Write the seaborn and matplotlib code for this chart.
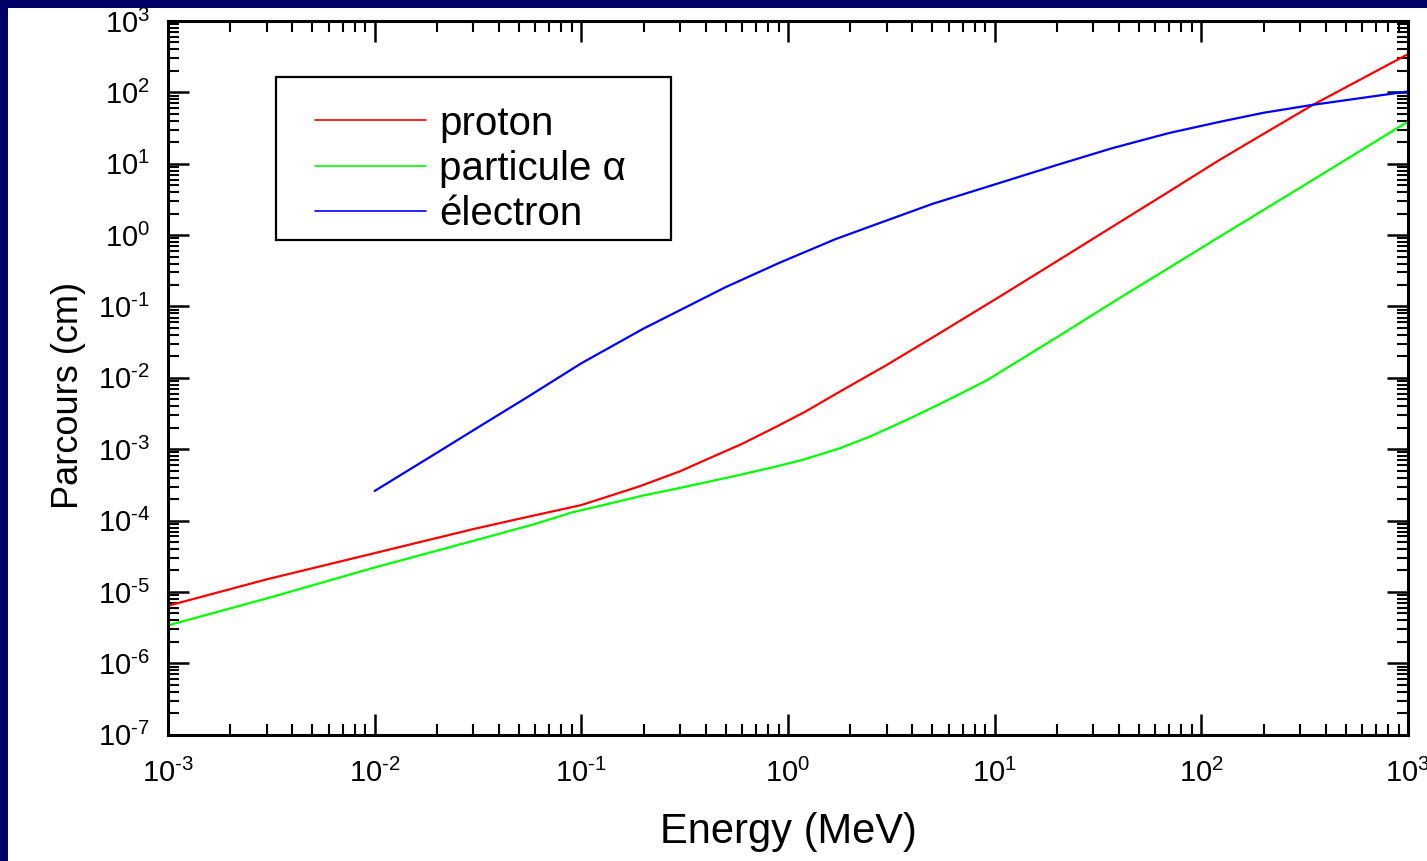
import numpy as np
import pandas as pd
import matplotlib
matplotlib.use('Agg')
import matplotlib.pyplot as plt
from matplotlib.patches import Rectangle
from matplotlib.ticker import LogLocator, NullFormatter, FuncFormatter
import seaborn as sns

# Range of particles (cm) vs energy (MeV)
proton_E = [0.001, 0.003, 0.01, 0.03, 0.05, 0.1, 0.19, 0.3, 0.4, 0.6, 0.85, 1.2, 1.78, 3,
            5.4, 10.6, 20, 40, 70, 123, 200, 347, 600, 1000]
proton_R = [6.4e-6, 1.5e-5, 3.5e-5, 7.6e-5, 1.06e-4, 1.65e-4, 3.0e-4, 4.9e-4, 7.1e-4, 1.19e-3,
            1.97e-3, 3.3e-3, 6.4e-3, 0.0151, 0.042, 0.138, 0.43, 1.5, 4.1, 11.4, 26.2, 67, 156, 344]

alpha_E = [0.001, 0.003, 0.01, 0.03, 0.06, 0.09, 0.12, 0.2, 0.28, 0.51, 0.85, 1.2, 1.78, 2.5,
           3.75, 5.43, 7, 9.2, 20, 40, 70, 123, 300, 1000]
alpha_R = [3.4e-6, 8.1e-6, 2.2e-5, 5.2e-5, 9.0e-5, 1.3e-4, 1.58e-4, 2.25e-4, 2.75e-4, 4.0e-4,
           5.6e-4, 7.2e-4, 1.03e-3, 1.51e-3, 2.57e-3, 4.3e-3, 6.2e-3, 9.3e-3, 0.037, 0.13, 0.35,
           0.955, 4.6, 39]

electron_E = [0.01, 0.02, 0.03, 0.055, 0.1, 0.2, 0.35, 0.5, 0.91, 1.7, 2.8, 5, 10.6, 20, 37,
              70, 123, 200, 347, 1000]
electron_R = [2.6e-4, 8.9e-4, 1.84e-3, 5.4e-3, 0.016, 0.049, 0.111, 0.187, 0.41, 0.88, 1.49,
              2.74, 5.4, 9.6, 16.5, 27, 38.7, 51.8, 67, 103]

labels = ['proton', 'particule α', 'électron']
colors = ['#ff0000', '#00ff00', '#0000ff']

df = pd.concat([
    pd.DataFrame({'E': proton_E, 'R': proton_R, 'particle': labels[0]}),
    pd.DataFrame({'E': alpha_E, 'R': alpha_R, 'particle': labels[1]}),
    pd.DataFrame({'E': electron_E, 'R': electron_R, 'particle': labels[2]}),
])

sns.set_theme(style='ticks')
plt.rcParams['font.family'] = ['Liberation Sans', 'DejaVu Sans']
plt.rcParams['mathtext.fontset'] = 'custom'
plt.rcParams['mathtext.rm'] = 'Liberation Sans'
plt.rcParams['text.color'] = 'black'

fig = plt.figure(figsize=(14.27, 8.61), dpi=100)
fig.patch.set_facecolor('#000066')
# white slide area (navy border on top and left)
fig.patches.append(Rectangle((8 / 1427, 0), 1, 1 - 8 / 861, transform=fig.transFigure,
                             facecolor='white', edgecolor='none', zorder=-10))

ax = fig.add_axes([0.1177, 0.1467, 0.8690, 0.8289])
ax.set_facecolor('white')

sns.lineplot(data=df, x='E', y='R', hue='particle', hue_order=labels,
             palette=dict(zip(labels, colors)), estimator=None, sort=False,
             linewidth=1.6, ax=ax)

ax.set_xscale('log')
ax.set_yscale('log')
ax.set_xlim(1e-3, 1e3)
ax.set_ylim(1e-7, 1e3)


def pow10(v, pos):
    e = int(round(np.log10(v)))
    s = str(abs(e))
    if e < 0:
        s = r'\text{-}' + s
    return r'$\mathregular{10^{%s}}$' % s


for axis in (ax.xaxis, ax.yaxis):
    axis.set_major_locator(LogLocator(base=10, numticks=30))
    axis.set_major_formatter(FuncFormatter(pow10))
    axis.set_minor_locator(LogLocator(base=10, subs=np.arange(2, 10), numticks=300))
    axis.set_minor_formatter(NullFormatter())

ax.tick_params(which='both', direction='in', top=True, right=True, colors='black')
ax.tick_params(which='major', length=15, width=1.8, labelsize=21, pad=17)
ax.tick_params(which='minor', length=8, width=1.5)
ax.tick_params(axis='y', which='major', pad=13)
for s in ax.spines.values():
    s.set_linewidth(2.2)
    s.set_color('black')

ax.set_xlabel('Energy (MeV)', fontsize=30, color='black')
ax.set_ylabel('Parcours (cm)', fontsize=26, color='black')
ax.xaxis.set_label_coords(0.5, -0.109)
ax.yaxis.set_label_coords(-0.066, 0.476)

# legend box drawn separately, entries placed inside it
ax.add_patch(Rectangle((0.0871, 0.6933), 0.4056 - 0.0871, 0.922 - 0.6933, transform=ax.transAxes,
                       facecolor='white', edgecolor='black', linewidth=1.6, zorder=4))
handles, labs = ax.get_legend_handles_labels()
leg = ax.legend(handles, labs, loc='upper left', bbox_to_anchor=(0.1185, 0.883),
                fontsize=29, handlelength=2.76, handletextpad=0.32, labelspacing=0.18,
                borderpad=0, borderaxespad=0, frameon=False)
leg.set_zorder(5)
plt.setp(leg.get_texts(), color='black')
for line in leg.get_lines():
    line.set_linewidth(1.2)

fig.savefig('out.png', dpi=100, facecolor=fig.get_facecolor())
